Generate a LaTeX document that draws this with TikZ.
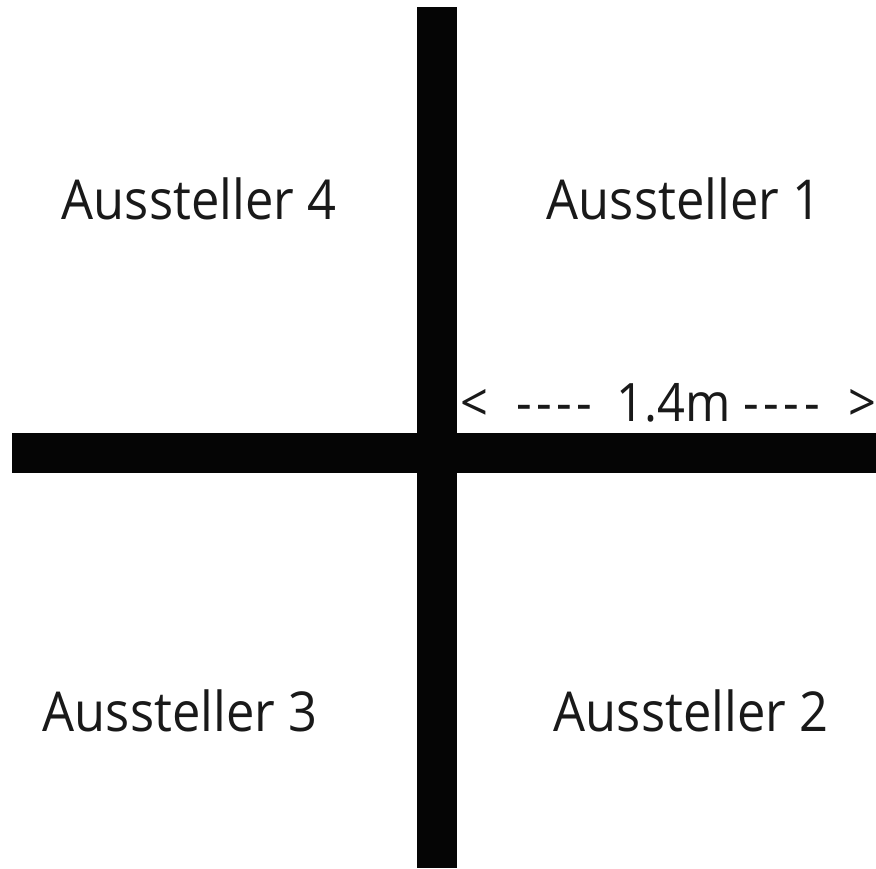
\documentclass[tikz,border=0pt]{standalone}
\usepackage{fontspec}
\setmainfont{Open Sans}[FakeStretch=0.92,Ligatures=TeXOff]
\newcommand{\dsh}{-\kern4.5pt-\kern4.5pt-\kern4.5pt-}
\begin{document}
\begin{tikzpicture}[x=1pt,y=1pt,
  lbl/.style={inner sep=0pt,anchor=base,font=\fontsize{55}{60}\selectfont,text=black!90},
  dim/.style={inner sep=0pt,anchor=base west,font=\fontsize{53}{58}\selectfont,text=black!90},
  bar/.style={fill=black!98,draw=none}]
\useasboundingbox (0,0) rectangle (876,868);
\fill[white] (0,0) rectangle (876,868);
\path[bar] (417,861) rectangle (457,0);
\path[bar] (12,435) rectangle (876,395);
\node[lbl] (a4) at (199,648) {Aussteller 4};
\node[lbl] (a1) at (684,648) {Aussteller 1};
\node[lbl] (a3) at (180,136) {Aussteller 3};
\node[lbl] (a2) at (691,136) {Aussteller 2};
\node[dim] (dim) at (460,446) {<\hspace{28pt}\dsh\hspace{24pt}1.4m\hspace{13pt}\dsh\hspace{29pt}>};
\end{tikzpicture}
\end{document}
